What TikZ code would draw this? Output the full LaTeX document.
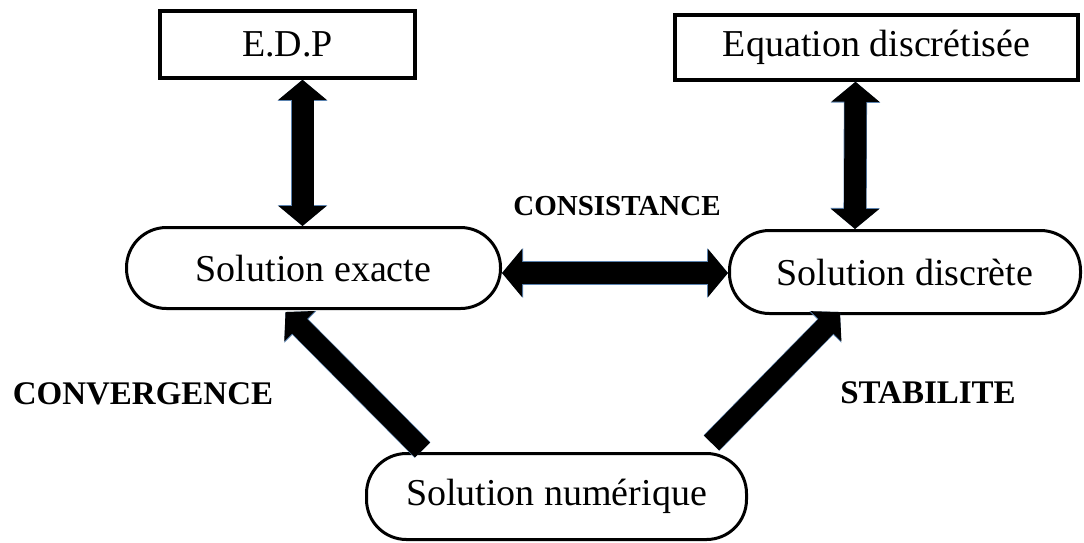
\documentclass[tikz,border=0pt]{standalone}
\usepackage{fontspec}
\setmainfont{Liberation Serif}
\usetikzlibrary{arrows.meta,calc}
\definecolor{glow}{RGB}{90,130,175}
\tikzset{
  box/.style={draw, line width=3.5pt, inner sep=0pt, font=\fontsize{38}{40}\selectfont},
  oval/.style={draw, line width=3pt, rounded corners=40pt, inner sep=0pt, font=\fontsize{38}{40}\selectfont},
  lbl/.style={font=\bfseries\fontsize{33}{35}\selectfont},
  dblarrow/.style={line width=22pt, draw=black,
    {Triangle[width=47pt,length=20pt]}-{Triangle[width=47pt,length=20pt]},
    preaction={draw=glow, line width=23.2pt,
      {Triangle[width=48.5pt,length=21pt]}-{Triangle[width=48.5pt,length=21pt]}}},
  onearrow/.style={line width=21pt, draw=black,
    -{Triangle[width=42pt,length=20pt]},
    preaction={draw=glow, line width=22.2pt,
      -{Triangle[width=43.5pt,length=21pt]}}}
}
\begin{document}
\begin{tikzpicture}[x=1pt,y=-1pt]
\useasboundingbox (0,0) rectangle (1084,542);
\fill[white] (0,0) rectangle (1084,542);

\node[box, minimum width=255pt, minimum height=67pt] (edp) at (287.5,44.5) {E.D.P};
\node[box, minimum width=403pt, minimum height=65pt] (eq) at (876.5,47.5) {Equation discrétisée};
\node[oval, minimum width=374pt, minimum height=81pt] (ex) at (313.5,268) {Solution exacte};
\node[oval, minimum width=351pt, minimum height=83pt] (disc) at (905,272) {Solution discrète};
\node[oval, minimum width=380pt, minimum height=86pt] (num) at (556.5,496.5) {Solution numérique};

\node[lbl, font=\bfseries\fontsize{29}{31}\selectfont] (cons) at (617,206) {CONSISTANCE};
\node[lbl] (conv) at (143,394) {CONVERGENCE};
\node[lbl] (stab) at (928,393) {STABILITE};

\draw[dblarrow] ([xshift=15pt]edp.south) -- ([xshift=-11pt]ex.north);
\draw[dblarrow] ([xshift=-21pt]eq.south) -- ([xshift=-50pt]disc.north);
\draw[dblarrow] ([yshift=-5pt]ex.east) -- ([yshift=-1pt]disc.west);
\draw[onearrow] ([xshift=-134pt,yshift=2pt]num.north) -- ([xshift=-28pt,yshift=-2pt]ex.south);
\draw[onearrow] ([xshift=155pt,yshift=9pt]num.north) -- ([xshift=-65pt,yshift=3pt]disc.south);
\end{tikzpicture}
\end{document}
